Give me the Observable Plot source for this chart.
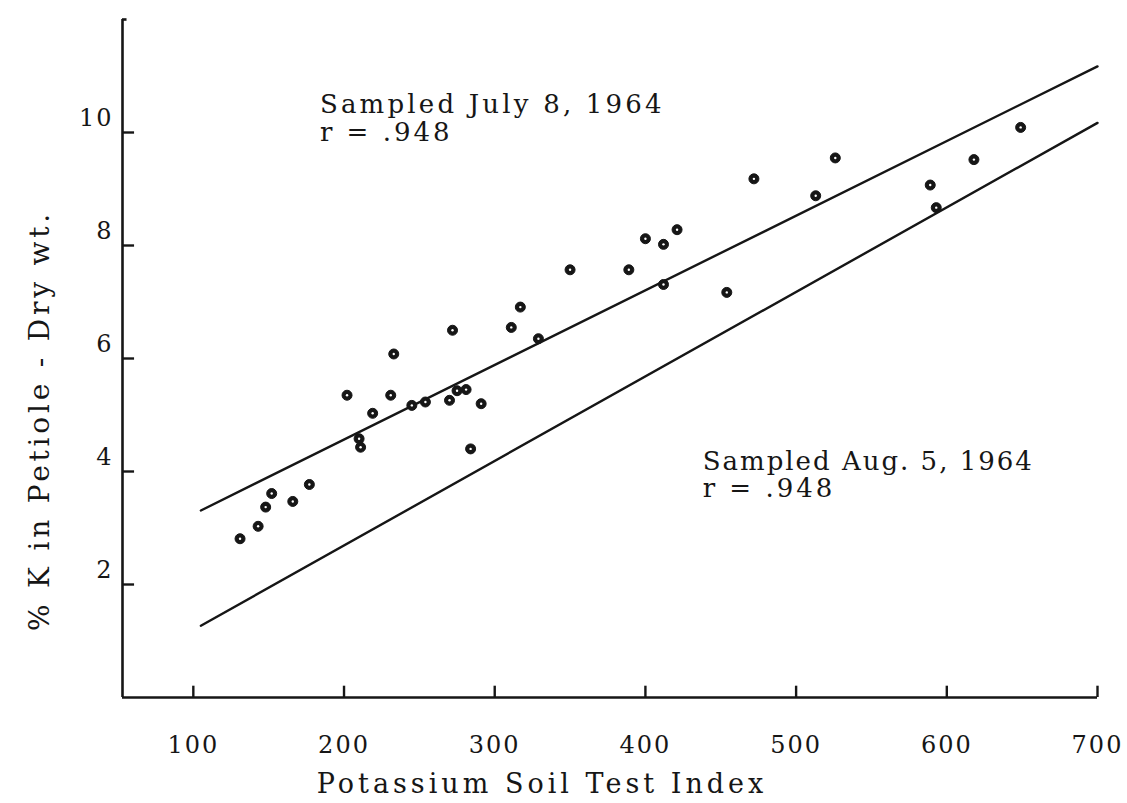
<!DOCTYPE html>
<html><head><meta charset="utf-8">
<script src="https://cdn.jsdelivr.net/npm/d3@7"></script>
<script src="https://cdn.jsdelivr.net/npm/@observablehq/plot@0.6"></script>
<style>
html,body{margin:0;padding:0;background:#fff}
svg{display:block}
</style>
</head><body><div id="chart"></div>
<script>
// Potassium soil test index (x) and % K in petiole, dry wt. (y)
const soilIndex = [131, 143, 148, 152, 166, 177, 202, 219, 210, 211, 231, 233, 245, 254, 270, 272, 275, 281, 284, 291, 311, 317, 329, 350, 389, 400, 412, 421, 412, 454, 472, 513, 526, 589, 593, 618, 649];
const kPercent  = [2.81, 3.03, 3.37, 3.61, 3.47, 3.77, 5.35, 5.03, 4.58, 4.43, 5.35, 6.08, 5.17, 5.23, 5.26, 6.50, 5.43, 5.45, 4.40, 5.20, 6.55, 6.91, 6.35, 7.57, 7.57, 8.12, 8.02, 8.28, 7.31, 7.17, 9.18, 8.88, 9.55, 9.07, 8.67, 9.52, 10.09];

// regression lines (end points)
const lineX    = [105, 700];
const julyLine = [3.31, 11.17];
const augLine  = [1.27, 10.17];

const xTicks = [100, 200, 300, 400, 500, 600, 700];
const yTicks = [2, 4, 6, 8, 10];
const xDomain = [53, 700];
const yDomain = [0, 12];

const xTitle = "Potassium Soil Test Index";
const yTitle = "% K in Petiole - Dry wt.";

const points = soilIndex.map((x, i) => ({x, y: kPercent[i]}));
const lines = [
  ...lineX.map((x, i) => ({x, y: julyLine[i], series: "July 8"})),
  ...lineX.map((x, i) => ({x, y: augLine[i], series: "Aug. 5"}))
];

const julyNotes = [
  {x: 184, y: 10.34, text: "Sampled July 8, 1964"},
  {x: 184, y: 9.85,  text: "r = .948"}
];
const augNotes = [
  {x: 438, y: 4.03,  text: "Sampled Aug. 5, 1964"},
  {x: 438, y: 3.54,  text: "r = .948"}
];

const ink = "#161616";

const chart = Plot.plot({
  width: 1127,
  height: 803,
  marginLeft: 122,
  marginRight: 30,
  marginTop: 19,
  marginBottom: 106,
  x: {domain: xDomain, axis: null},
  y: {domain: yDomain, axis: null},
  style: {fontFamily: "DejaVu Serif", fontSize: "24px", letterSpacing: "2px", color: ink, background: "#fff"},
  marks: [
    // axes lines
    Plot.ruleX([xDomain[0]], {y1: yDomain[0], y2: yDomain[1], stroke: ink, strokeWidth: 2.6}),
    Plot.ruleY([yDomain[0]], {x1: xDomain[0], x2: xDomain[1], stroke: ink, strokeWidth: 2.6}),
    Plot.ruleY([yDomain[1]], {x1: xDomain[0], x2: xDomain[0] + 3, stroke: ink, strokeWidth: 2.6}),
    // inward ticks
    Plot.ruleY(yTicks, {x1: xDomain[0], x2: xDomain[0] + 8, stroke: ink, strokeWidth: 2.4}),
    Plot.ruleX(xTicks, {y1: 0, y2: 0.2, stroke: ink, strokeWidth: 2.4}),
    // tick labels
    Plot.axisX(xTicks, {tickSize: 0, tickPadding: 38, label: null, fill: ink, tickFormat: d => String(d)}),
    Plot.axisY(yTicks, {tickSize: 0, tickPadding: 9, label: null, dy: -14, fill: ink, tickFormat: d => String(d)}),
    // regression lines
    Plot.line(lines, {x: "x", y: "y", z: "series", stroke: ink, strokeWidth: 2.4}),
    // observations
    Plot.dot(points, {x: "x", y: "y", r: 5, fill: ink, stroke: ink, strokeWidth: 1}),
    Plot.dot(points, {x: "x", y: "y", r: 1.2, fill: "#fff"}),
    // annotations
    Plot.text(julyNotes, {x: "x", y: "y", text: "text", textAnchor: "start", lineAnchor: "bottom", fontSize: 26, fill: ink}),
    Plot.text(augNotes, {x: "x", y: "y", text: "text", textAnchor: "start", lineAnchor: "bottom", fontSize: 26, fill: ink}),
    // axis titles
    Plot.text([xTitle], {frameAnchor: "bottom", textAnchor: "middle", dx: -68, dy: 95, fontSize: 27, fill: ink}),
    Plot.text([yTitle], {frameAnchor: "left", textAnchor: "middle", rotate: -90, dx: -82, dy: 62, fontSize: 28, fill: ink})
  ]
});
document.getElementById("chart").appendChild(chart);

// typewriter-like letter spacing per text
const spacing = new Map([
  [julyNotes[0].text, "3.2px"], [julyNotes[1].text, "3px"],
  [augNotes[0].text, "2px"],
  [xTitle, "4px"], [yTitle, "3.8px"]
]);
d3.select(chart).selectAll("text").each(function() {
  const s = spacing.get(this.textContent);
  if (s) this.style.letterSpacing = s;
});
</script>
</body></html>
